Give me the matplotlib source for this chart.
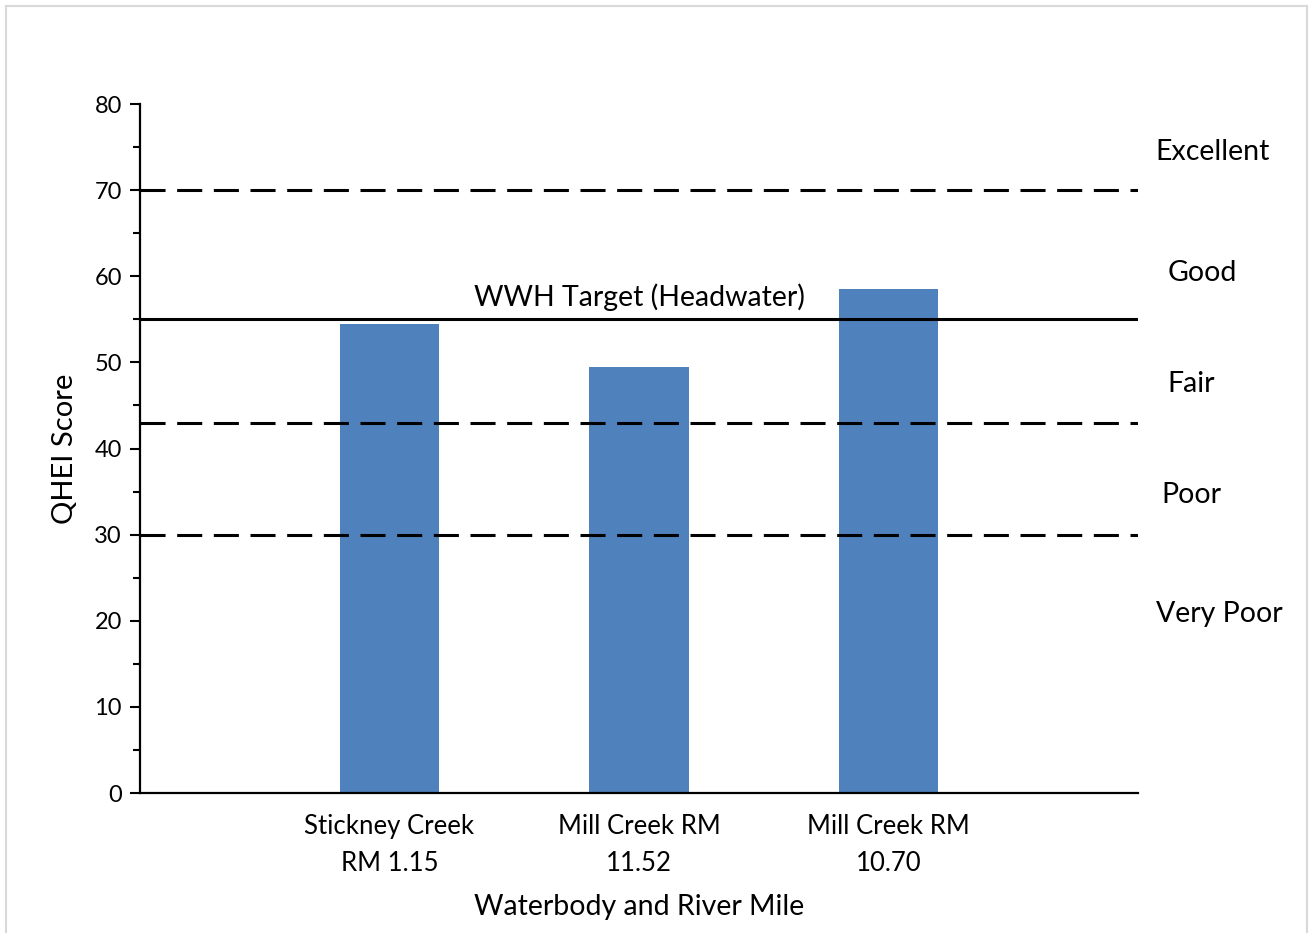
import numpy as np
import matplotlib.pyplot as plt
from matplotlib.lines import Line2D
from matplotlib.ticker import MultipleLocator

plt.rcParams['font.family'] = ['Lato', 'DejaVu Sans']

sites = ['Stickney Creek\nRM 1.15', 'Mill Creek RM\n11.52', 'Mill Creek RM\n10.70']
qhei = [54.5, 49.5, 58.5]

# narrative class boundaries and the headwater target
class_breaks = [70, 43, 30]
wwh_target = 55
class_names = ['Excellent', 'Good', 'Fair', 'Poor', 'Very Poor']
class_label_y = [74.4, 60.35, 47.55, 34.55, 20.75]
class_label_x = [4.297, 4.257, 4.212, 4.212, 4.325]

fig = plt.figure(figsize=(13.11, 9.33), dpi=100)
ax = fig.add_axes([0.1068, 0.15, 0.7613, 0.7385])

x = np.arange(1, len(sites) + 1)
ax.bar(x, qhei, width=0.4, color='#4F81BD', zorder=2)

lw = 2.2
for b in class_breaks:
    ax.axhline(b, color='black', lw=lw, linestyle=(0, (8.2, 3.8)), zorder=3)
ax.axhline(wwh_target, color='black', lw=lw, zorder=3)
ax.text(2.0, 57.6, 'WWH Target (Headwater)', ha='center', va='center', fontsize=20.5)

for name, tx, ty in zip(class_names, class_label_x, class_label_y):
    ax.text(tx, ty, name, ha='center', va='center', fontsize=20.5, clip_on=False)

ax.set_xlim(0, 4)
ax.set_ylim(0, 80)
ax.set_xticks(x)
ax.set_xticklabels(sites, fontsize=18.5, linespacing=1.62)
ax.tick_params(axis='x', length=0, pad=15)
ax.yaxis.set_major_locator(MultipleLocator(10))
ax.yaxis.set_minor_locator(MultipleLocator(5))
ax.tick_params(axis='y', which='major', length=7, width=1.5, labelsize=17, pad=6)
ax.tick_params(axis='y', which='minor', length=5, width=1.5)

for s in ['top', 'right']:
    ax.spines[s].set_visible(False)
for s in ['left', 'bottom']:
    ax.spines[s].set_linewidth(1.6)

ax.set_ylabel('QHEI Score', fontsize=21, labelpad=12)
ax.set_xlabel('Waterbody and River Mile', fontsize=20.5, labelpad=13)

# light frame around the figure
W, H = 1311, 933
fx0, fx1, fy1 = 5.5 / W, 1306.5 / W, 1 - 5.5 / H
for xs, ys in [([fx0, fx0], [0, fy1]), ([fx0, fx1], [fy1, fy1]), ([fx1, fx1], [fy1, 0])]:
    fig.add_artist(Line2D(xs, ys, color='#D9D9D9', lw=1.5, transform=fig.transFigure))

fig.savefig('out.png', dpi=100)
